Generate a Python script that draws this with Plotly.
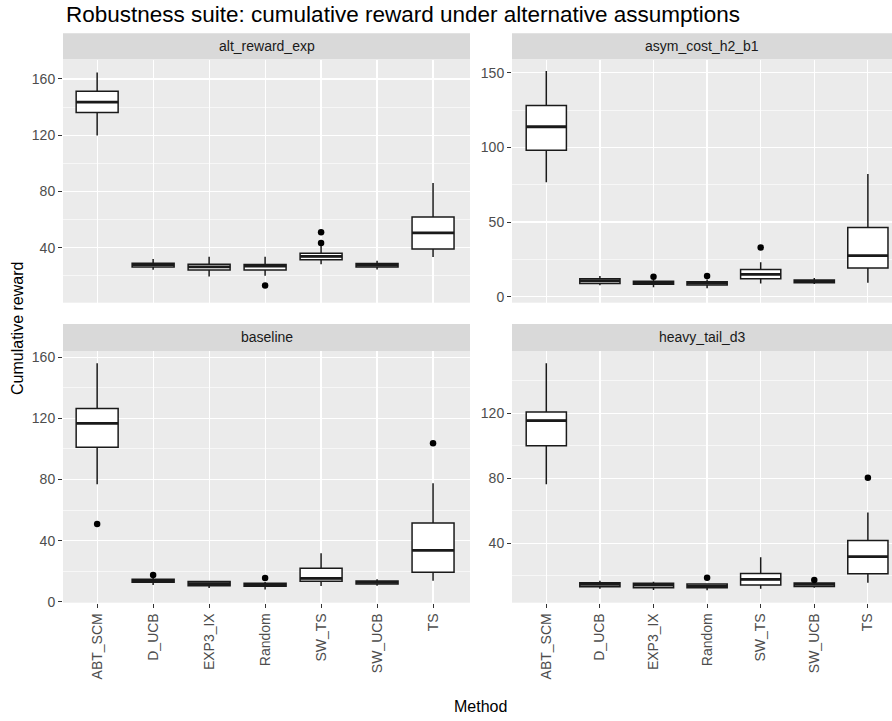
import plotly.graph_objects as go

# ---------------- data ----------------
methods = ["ABT_SCM", "D_UCB", "EXP3_IX", "Random", "SW_TS", "SW_UCB", "TS"]
scenarios = ["alt_reward_exp", "asym_cost_h2_b1", "baseline", "heavy_tail_d3"]

alt_low = [119.8, 24.4, 19.7, 20.2, 28.4, 24.6, 33.4]
alt_q1 = [136.1, 26.3, 24.2, 24.2, 31.5, 26.3, 39.1]
alt_med = [143.5, 28.0, 26.5, 27.0, 33.9, 27.7, 50.6]
alt_q3 = [151.3, 29.1, 28.4, 28.2, 36.2, 28.9, 62.0]
alt_high = [164.7, 32.0, 33.6, 33.6, 41.4, 30.8, 86.1]
alt_out_m = ["Random", "SW_TS", "SW_TS"]
alt_out_v = [13.3, 43.5, 51.1]

asym_low = [76.6, 7.6, 6.3, 5.6, 8.9, 8.5, 9.4]
asym_q1 = [98.0, 8.9, 8.3, 7.8, 12.1, 9.4, 19.2]
asym_med = [113.8, 10.7, 9.4, 9.2, 15.0, 10.3, 27.5]
asym_q3 = [128.1, 12.1, 10.3, 10.0, 18.3, 11.2, 46.4]
asym_high = [151.1, 13.8, 11.6, 11.6, 23.0, 12.5, 82.1]
asym_out_m = ["EXP3_IX", "Random", "SW_TS"]
asym_out_v = [13.4, 13.8, 33.0]

base_low = [76.9, 11.0, 9.0, 8.1, 10.3, 10.5, 13.8]
base_q1 = [101.1, 12.7, 10.5, 10.1, 13.4, 11.6, 19.3]
base_med = [116.8, 13.8, 11.9, 11.2, 15.3, 12.7, 33.7]
base_q3 = [126.4, 14.7, 13.2, 12.1, 21.9, 13.6, 51.6]
base_high = [156.1, 16.0, 13.8, 12.9, 31.7, 14.7, 77.5]
base_out_m = ["ABT_SCM", "D_UCB", "Random", "TS"]
base_out_v = [50.9, 17.5, 15.6, 103.7]

heavy_low = [76.3, 12.1, 11.3, 11.1, 12.1, 12.7, 15.8]
heavy_q1 = [100.1, 13.3, 12.7, 12.7, 14.4, 13.5, 21.3]
heavy_med = [115.5, 14.8, 14.4, 13.7, 17.8, 14.8, 31.8]
heavy_q3 = [120.8, 15.8, 15.4, 15.0, 21.5, 15.6, 41.8]
heavy_high = [150.8, 17.0, 16.4, 15.4, 31.4, 16.2, 58.9]
heavy_out_m = ["Random", "SW_UCB", "TS"]
heavy_out_v = [18.9, 17.4, 80.4]

panels = [
    (alt_low, alt_q1, alt_med, alt_q3, alt_high, alt_out_m, alt_out_v),
    (asym_low, asym_q1, asym_med, asym_q3, asym_high, asym_out_m, asym_out_v),
    (base_low, base_q1, base_med, base_q3, base_high, base_out_m, base_out_v),
    (heavy_low, heavy_q1, heavy_med, heavy_q3, heavy_high, heavy_out_m, heavy_out_v),
]

# ---------------- layout geometry ----------------
W, H = 892, 721
FONT = "Liberation Sans, Arial, sans-serif"
BOX_W = 0.75

def px_x(p):
    return p / W

def px_y(p):
    return 1 - p / H

x_domains = [(63, 470), (512, 892), (63, 470), (512, 892)]
y_domains = [(60, 302.7), (60, 302.7), (351, 602.7), (351, 602.7)]
strip_y = [(33.3, 59.5), (33.3, 59.5), (324, 350.9), (324, 350.9)]
strip_text_x = [266.5, 702, 266.5, 702]
x_ranges = [[0.39, 7.66], [0.36, 7.45], [0.39, 7.66], [0.36, 7.45]]
y_ranges = [[1, 173.5], [-4, 158.5], [-0.6, 164.1], [3.5, 158.3]]
y_dticks = [40, 50, 40, 40]

pos = list(range(1, len(methods) + 1))
fig = go.Figure()
layout = {}
shapes = []
annotations = []

for i, (low, q1, med, q3, high, om, ov) in enumerate(panels):
    n = i + 1
    xa = "x" if n == 1 else f"x{n}"
    ya = "y" if n == 1 else f"y{n}"
    fig.add_trace(go.Box(
        x=pos, q1=q1, median=med, q3=q3, lowerfence=low, upperfence=high,
        width=BOX_W, whiskerwidth=0, fillcolor="white",
        line=dict(color="#1a1a1a", width=1.5), boxpoints=False,
        xaxis=xa, yaxis=ya, showlegend=False, hoverinfo="skip",
    ))
    mx, my = [], []
    for p, m in zip(pos, med):
        mx += [p - BOX_W / 2, p + BOX_W / 2, None]
        my += [m, m, None]
    fig.add_trace(go.Scatter(
        x=mx, y=my, mode="lines", line=dict(color="#1a1a1a", width=2.8),
        xaxis=xa, yaxis=ya, showlegend=False, hoverinfo="skip",
    ))
    fig.add_trace(go.Scatter(
        x=[methods.index(m) + 1 for m in om], y=ov, mode="markers",
        marker=dict(color="black", size=6.5),
        xaxis=xa, yaxis=ya, showlegend=False, hoverinfo="skip",
    ))

    bottom_row = n >= 3
    xkey = "xaxis" if n == 1 else f"xaxis{n}"
    ykey = "yaxis" if n == 1 else f"yaxis{n}"
    layout[xkey] = dict(
        domain=[px_x(x_domains[i][0]), px_x(x_domains[i][1])],
        anchor=ya, range=x_ranges[i], tickmode="array", tickvals=pos,
        ticktext=methods, showticklabels=bottom_row, tickangle=-90,
        ticks="outside" if bottom_row else "", ticklen=4, tickwidth=1,
        tickcolor="#333333", showgrid=True, gridcolor="white", gridwidth=1.2,
        zeroline=False, showline=False, automargin=False,
        tickfont=dict(family=FONT, size=14, color="#4d4d4d"),
    )
    layout[ykey] = dict(
        domain=[px_y(y_domains[i][1]), px_y(y_domains[i][0])],
        anchor=xa, range=y_ranges[i], tick0=0, dtick=y_dticks[i],
        ticks="outside", ticklen=4, tickwidth=1, tickcolor="#333333",
        showgrid=True, gridcolor="white", gridwidth=1.2,
        minor=dict(tick0=0, dtick=y_dticks[i] / 2, showgrid=True,
                   gridcolor="white", gridwidth=0.6, ticks=""),
        zeroline=False, showline=False, automargin=False,
        tickfont=dict(family=FONT, size=14, color="#4d4d4d"),
    )
    # strip
    shapes.append(dict(
        type="rect", xref="paper", yref="paper", layer="below",
        x0=px_x(x_domains[i][0]), x1=px_x(x_domains[i][1]),
        y0=px_y(strip_y[i][1]), y1=px_y(strip_y[i][0]),
        fillcolor="#d9d9d9", line=dict(width=0),
    ))
    annotations.append(dict(
        text=scenarios[i], xref="paper", yref="paper", showarrow=False,
        x=px_x(strip_text_x[i]),
        y=px_y((strip_y[i][0] + strip_y[i][1]) / 2),
        xanchor="center", yanchor="middle",
        font=dict(family=FONT, size=14, color="#1a1a1a"),
    ))

annotations.append(dict(
    text="Robustness suite: cumulative reward under alternative assumptions",
    xref="paper", yref="paper", x=px_x(64), y=px_y(14.5), showarrow=False,
    xanchor="left", yanchor="middle",
    font=dict(family=FONT, size=22.5, color="black"),
))
annotations.append(dict(
    text="Method", xref="paper", yref="paper", x=px_x(481), y=px_y(706),
    showarrow=False, xanchor="center", yanchor="middle",
    font=dict(family=FONT, size=16, color="black"),
))
annotations.append(dict(
    text="Cumulative reward", xref="paper", yref="paper", x=px_x(17),
    y=px_y(329), showarrow=False, xanchor="center", yanchor="middle",
    textangle=-90, font=dict(family=FONT, size=16, color="black"),
))

fig.update_layout(
    width=W, height=H, margin=dict(l=0, r=0, t=0, b=0, pad=0),
    paper_bgcolor="white", plot_bgcolor="#ebebeb",
    shapes=shapes, annotations=annotations, showlegend=False,
    hovermode=False,
    **layout,
)

fig.write_html(
    "out.html",
    config={"displayModeBar": False, "staticPlot": True},
    post_script="document.body.style.margin='0';document.body.style.padding='0';"
                "document.body.style.overflow='hidden';",
)
